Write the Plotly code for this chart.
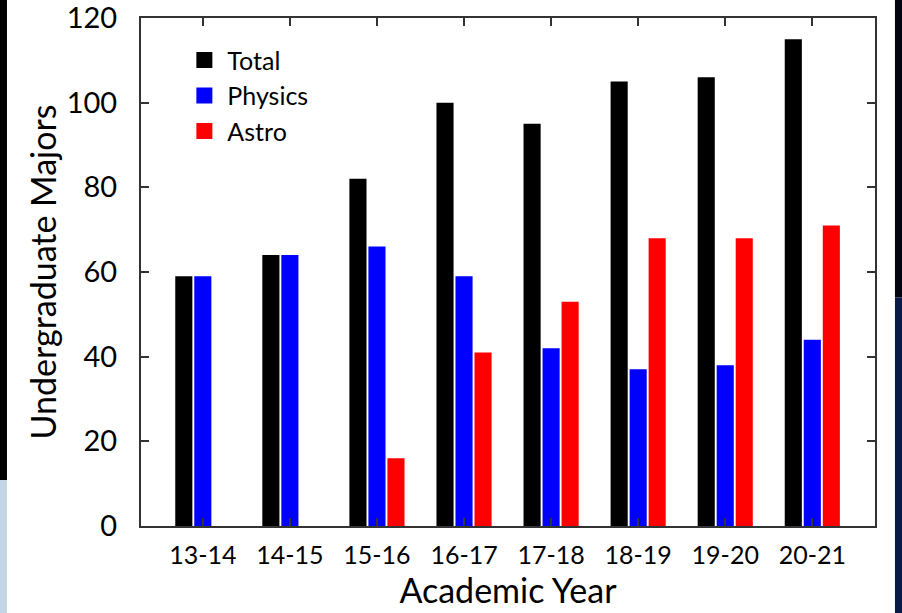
import plotly.graph_objects as go

years = ["13-14", "14-15", "15-16", "16-17", "17-18", "18-19", "19-20", "20-21"]
total = [59, 64, 82, 100, 95, 105, 106, 115]
physics = [59, 64, 66, 59, 42, 37, 38, 44]
astro = [0, 0, 16, 41, 53, 68, 68, 71]
y_ticks = [0, 20, 40, 60, 80, 100, 120]
series_names = ["Total", "Physics", "Astro"]
series_colors = ["#000000", "#0000ff", "#ff0000"]

FONT = "Lato"
fig = go.Figure()
for name, vals, col in zip(series_names, [total, physics, astro], series_colors):
    fig.add_trace(go.Bar(x=years, y=vals, name=name, showlegend=False,
                         marker=dict(color=col, line=dict(width=0))))
# legend entries (large square swatches)
for name, col in zip(series_names, series_colors):
    fig.add_trace(go.Scatter(x=[None], y=[None], mode="markers", name=name,
                             marker=dict(symbol="square", size=18, color=col)))

axis_common = dict(
    showline=True, linecolor="#333333", linewidth=2, mirror="allticks",
    ticks="inside", ticklen=8, tickwidth=2, tickcolor="#333333",
    showgrid=False, zeroline=False, ticklabeloverflow="allow", automargin=False,
)

fig.update_layout(
    width=902, height=613,
    margin=dict(l=141, r=27, t=18, b=87),
    paper_bgcolor="white", plot_bgcolor="white",
    barmode="group", bargap=0.345, bargroupgap=0.1,
    font=dict(family=FONT, color="black"),
    showlegend=True,
    legend=dict(x=0.055, y=0.962, xanchor="left", yanchor="top",
                font=dict(size=25, family=FONT), bgcolor="rgba(0,0,0,0)",
                tracegroupgap=0, itemwidth=36),
    xaxis=dict(range=[-0.71, 7.72], tickfont=dict(size=25, family=FONT), ticklabelstandoff=6,
               title=dict(text="Academic Year", font=dict(size=34, family=FONT), standoff=8),
               **axis_common),
    yaxis=dict(range=[0, 120], tickvals=y_ticks, tickfont=dict(size=29, family=FONT), ticklabelstandoff=16,
               title=dict(text="Undergraduate Majors", font=dict(size=34, family=FONT), standoff=0),
               **axis_common),
)

# decorative slide edges
fig.add_shape(type="rect", xref="paper", yref="paper", x0=-0.1921, x1=-0.1826, y0=0.0904, y1=1.04,
              fillcolor="#000000", line=dict(width=0), layer="below")
fig.add_shape(type="rect", xref="paper", yref="paper", x0=-0.1921, x1=-0.1826, y0=-0.175, y1=0.0904,
              fillcolor="#c4d6e4", line=dict(width=0), layer="below")
fig.add_shape(type="rect", xref="paper", yref="paper", x0=1.0272, x1=1.04, y0=0.45, y1=1.04,
              fillcolor="#020510", line=dict(width=0), layer="below")
fig.add_shape(type="rect", xref="paper", yref="paper", x0=1.0272, x1=1.04, y0=-0.175, y1=0.45,
              fillcolor="#0a1a48", line=dict(width=0), layer="below")

fig.write_html("out.html", config={"displayModeBar": False},
               post_script="document.body.style.margin='0px';")
